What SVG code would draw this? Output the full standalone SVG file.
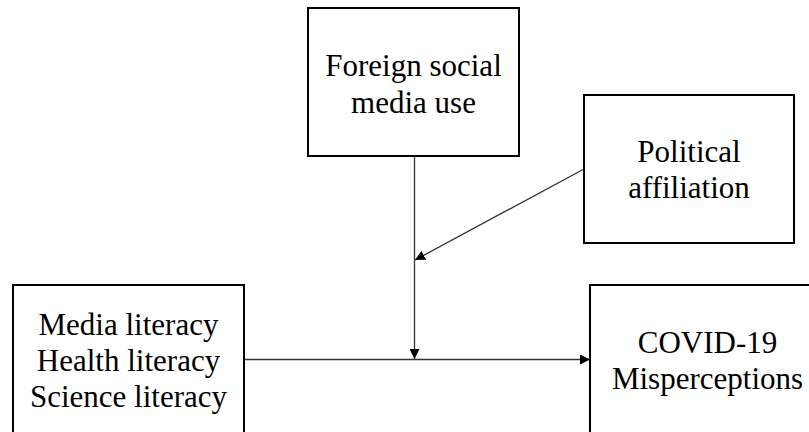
<svg xmlns="http://www.w3.org/2000/svg" width="809" height="432" viewBox="0 0 809 432">
<style>
.box{fill:#fff;stroke:#000;stroke-width:2}
.t{font-family:"Liberation Serif","Times New Roman",serif;font-size:31px;fill:#000;text-anchor:middle}
.c{stroke:#333;stroke-width:1.3;fill:none}
</style>
<defs>
<marker id="ah" viewBox="0 0 10 10" refX="10" refY="5" markerWidth="10" markerHeight="10" markerUnits="userSpaceOnUse" orient="auto">
<path d="M0,0 L10,5 L0,10 z" fill="#000"/>
</marker>
</defs>
<rect width="809" height="432" fill="#fff"/>
<g id="connectors">
<line class="c" x1="414.5" y1="156" x2="414.5" y2="359" marker-end="url(#ah)"/>
<line class="c" x1="244" y1="359.5" x2="590" y2="359.5" marker-end="url(#ah)"/>
<line class="c" x1="584" y1="169" x2="415" y2="260" marker-end="url(#ah)"/>
</g>
<g id="foreign">
<rect class="box" x="308" y="8" width="211" height="148"/>
<text class="t" x="413.5" y="76">Foreign social</text>
<text class="t" x="413.5" y="113">media use</text>
</g>
<g id="political">
<rect class="box" x="584" y="95" width="210" height="148"/>
<text class="t" x="689" y="162">Political</text>
<text class="t" x="689" y="198">affiliation</text>
</g>
<g id="literacy">
<rect class="box" x="13" y="285" width="231" height="160"/>
<text class="t" x="128.5" y="335">Media literacy</text>
<text class="t" x="128.5" y="371">Health literacy</text>
<text class="t" x="128.5" y="407">Science literacy</text>
</g>
<g id="covid">
<rect class="box" x="590" y="285" width="240" height="160"/>
<text class="t" x="707.5" y="353">COVID-19</text>
<text class="t" x="707.5" y="389">Misperceptions</text>
</g>
</svg>
